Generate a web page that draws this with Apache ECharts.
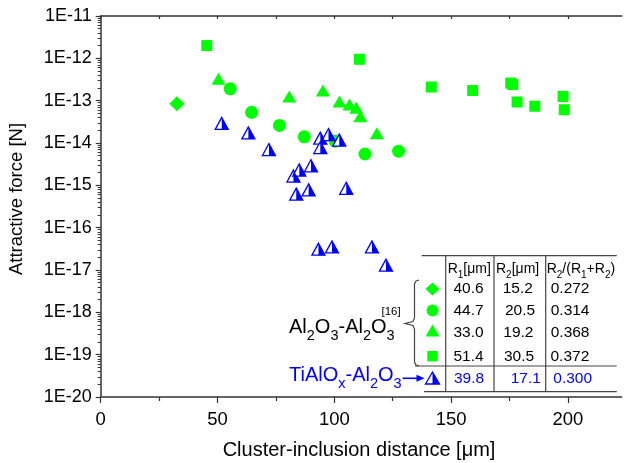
<!DOCTYPE html>
<html><head><meta charset="utf-8">
<script src="https://cdn.jsdelivr.net/npm/echarts@6/dist/echarts.min.js"></script>
<style>html,body{margin:0;padding:0;background:#fff}#c{width:624px;height:463px}</style>
</head><body><div id="c"></div>
<script>
// ---- data ----
const diamondX = [32.6];
const diamondY = [8.5e-14];
const circleX = [55.4, 64.6, 76.5, 87.1, 100.4, 113.1, 127.5];
const circleY = [1.9e-13, 5.3e-14, 2.6e-14, 1.4e-14, 1.1e-14, 5.5e-15, 6.4e-15];
const triX = [50.4, 80.7, 95.1, 102.2, 106.5, 109.4, 111.1, 118.2];
const triY = [3.3e-13, 1.26e-13, 1.74e-13, 9.5e-14, 8.1e-14, 6.8e-14, 4.3e-14, 1.7e-14];
const sqX = [45.4, 110.7, 141.5, 159.2, 175.5, 176.4, 178.2, 185.8, 197.9, 198.4];
const sqY = [2.0e-12, 9.5e-13, 2.1e-13, 1.74e-13, 2.6e-13, 2.4e-13, 9.3e-14, 7.4e-14, 1.26e-13, 6.1e-14];
const blueX = [51.8, 63.2, 72.0, 82.5, 85.0, 90.0, 83.7, 89.0, 94.0, 97.5, 94.0, 102.1, 105.1, 93.2, 99.0, 116.1, 122.1];
const blueY = [2.9e-14, 1.73e-14, 7.0e-15, 1.66e-15, 2.3e-15, 2.9e-15, 6.2e-16, 7.8e-16, 1.3e-14, 1.58e-14, 7.8e-15, 1.17e-14, 8.5e-16, 3.1e-17, 3.5e-17, 3.5e-17, 1.3e-17];

const xTicks = [0, 50, 100, 150, 200];
const xMinorTicks = [25, 75, 125, 175];
const xTopTicks = [0, 25, 50, 75, 100, 125, 150, 175, 200];
const yTicks = [1e-20, 1e-19, 1e-18, 1e-17, 1e-16, 1e-15, 1e-14, 1e-13, 1e-12, 1e-11];

const tableHeader = ['R{s|1}[\u03bcm]', 'R{s|2}[\u03bcm]', 'R{s|2}/(R{s|1}+R{s|2})'];
const tableR1 = ['40.6', '44.7', '33.0', '51.4', '39.8'];
const tableR2 = ['15.2', '20.5', '19.2', '30.5', '17.1'];
const tableRatio = ['0.272', '0.314', '0.368', '0.372', '0.300'];

// ---- build ----
const FONT = 'Arial, "Liberation Sans", sans-serif';
const GREEN = '#00ff00', BLUE = '#0000ff', AX = '#333333';
const zip = (a, b) => a.map((v, i) => [v, b[i]]);
const yMinor = [];
yTicks.slice(0, -1).forEach(d => { for (let k = 2; k <= 9; k++) yMinor.push(k * d); });

const chart = echarts.init(document.getElementById('c'), null, {renderer: 'canvas'});

const rowY = [289, 311, 332.5, 357, 379];
const r1X = [453.5, 453.5, 453.5, 453.5, 454];
const r2X = [502.7, 505, 503.3, 504, 510.7];
const r3X = [550.7, 550.7, 550.7, 550.5, 553.3];

const graphics = [];
// axis titles
graphics.push({type: 'text', x: 17, y: 199, rotation: Math.PI / 2, silent: true,
  style: {text: 'Attractive force [N]', fontFamily: FONT, fontSize: 18.5, fill: '#000', align: 'center', verticalAlign: 'middle'}});
graphics.push({type: 'text', x: 359, y: 450, silent: true,
  style: {text: 'Cluster-inclusion distance [\u03bcm]', fontFamily: FONT, fontSize: 20, fill: '#000', align: 'center', verticalAlign: 'middle'}});
// table lines
const L = (x1, y1, x2, y2) => graphics.push({type: 'line', silent: true, shape: {x1, y1, x2, y2}, style: {stroke: '#444', lineWidth: 1.2}});
L(421.7, 255.7, 616.7, 255.7);
L(415, 366, 616.7, 366);
L(424, 391.7, 616.7, 391.7);
L(445.7, 255.7, 445.7, 391.7);
L(494, 255.7, 494, 391.7);
L(545.7, 255.7, 545.7, 391.7);
// brace
graphics.push({type: 'polyline', silent: true, shape: {points: [[419, 280], [416, 281], [414.5, 284], [414.5, 318], [413, 321.5], [405, 323.5], [413, 325.5], [414.5, 329], [414.5, 362], [416, 365], [419, 366]]},
  style: {stroke: '#444', lineWidth: 1.2, fill: null}});
// headers
const hx = [447.7, 496, 546.7];
tableHeader.forEach((t, i) => graphics.push({type: 'text', x: hx[i], y: 269, silent: true,
  style: {text: t, fontFamily: FONT, fontSize: 14, fill: '#000', align: 'left', verticalAlign: 'middle', lineHeight: 14,
    rich: {s: {fontFamily: FONT, fontSize: 10, lineHeight: 10, padding: [12, 0, 0, 0]}}}}));
// rows
tableR1.forEach((t, i) => {
  const c = i === 4 ? BLUE : '#000';
  [[r1X[i], t], [r2X[i], tableR2[i]], [r3X[i], tableRatio[i]]].forEach(([x, s]) =>
    graphics.push({type: 'text', x, y: rowY[i], silent: true,
      style: {text: s, fontFamily: FONT, fontSize: 15.5, fill: c, align: 'left', verticalAlign: 'middle'}}));
});
// table symbols
const sx = 432.5;
graphics.push({type: 'polygon', silent: true, shape: {points: [[sx, rowY[0] - 6.5], [sx + 7, rowY[0]], [sx, rowY[0] + 6.5], [sx - 7, rowY[0]]]}, style: {fill: GREEN}});
graphics.push({type: 'circle', silent: true, shape: {cx: sx, cy: 310.5, r: 6}, style: {fill: GREEN}});
graphics.push({type: 'polygon', silent: true, shape: {points: [[sx, 324.5], [sx + 7, 336.5], [sx - 7, 336.5]]}, style: {fill: GREEN}});
graphics.push({type: 'rect', silent: true, shape: {x: sx - 5.2, y: 351, width: 10.4, height: 10.4}, style: {fill: GREEN}});
graphics.push({type: 'polygon', silent: true, shape: {points: [[sx, 372], [sx + 7, 384], [sx - 7, 384]]}, style: {fill: '#fff', stroke: BLUE, lineWidth: 1.3}});
graphics.push({type: 'polygon', silent: true, shape: {points: [[sx, 372], [sx + 7, 384], [sx, 384]]}, style: {fill: BLUE}});
// labels
graphics.push({type: 'text', x: 289, y: 327.5, silent: true,
  style: {text: 'Al{s|2}O{s|3}-Al{s|2}O{s|3}', fontFamily: FONT, fontSize: 20, lineHeight: 22, fill: '#000', align: 'left', verticalAlign: 'middle',
    rich: {s: {fontFamily: FONT, fontSize: 14.5, lineHeight: 14, padding: [17, 0, 0, 0]}}}});
graphics.push({type: 'text', x: 381.5, y: 311.5, silent: true,
  style: {text: '[16]', fontFamily: FONT, fontSize: 11.5, fill: '#000', align: 'left', verticalAlign: 'middle'}});
graphics.push({type: 'text', x: 289, y: 375, silent: true,
  style: {text: 'TiAlO{s|x}-Al{s|2}O{s|3}', fontFamily: FONT, fontSize: 20, lineHeight: 22, fill: BLUE, align: 'left', verticalAlign: 'middle',
    rich: {s: {fontFamily: FONT, fontSize: 14.5, lineHeight: 14, fill: BLUE, padding: [17, 0, 0, 0]}}}});
// arrow
graphics.push({type: 'line', silent: true, shape: {x1: 402.7, y1: 378.3, x2: 418, y2: 378.3}, style: {stroke: BLUE, lineWidth: 1.6}});
graphics.push({type: 'polygon', silent: true, shape: {points: [[416.5, 374.8], [424.5, 378.3], [416.5, 381.8]]}, style: {fill: BLUE}});

const option = {
  animation: false,
  backgroundColor: '#fff',
  grid: {left: 100.7, right: 2.3, top: 16, bottom: 66},
  xAxis: [
    {type: 'value', min: 0, max: 223, position: 'bottom',
      axisLine: {show: true, lineStyle: {color: AX, width: 1.5}},
      axisTick: {show: true, length: 6, customValues: xTicks, lineStyle: {color: AX, width: 1.2}},
      axisLabel: {show: true, customValues: xTicks, fontFamily: FONT, fontSize: 18.5, color: '#000', margin: 13},
      splitLine: {show: false}},
    {type: 'value', min: 0, max: 223, position: 'bottom',
      axisLine: {show: false},
      axisTick: {show: true, length: 4, customValues: xMinorTicks, lineStyle: {color: AX, width: 1.2}},
      axisLabel: {show: false}, splitLine: {show: false}},
    {type: 'value', min: 0, max: 223, position: 'top',
      axisLine: {show: true, lineStyle: {color: AX, width: 1.5}},
      axisTick: {show: true, inside: true, length: 3, customValues: xTopTicks, lineStyle: {color: AX, width: 1.2}},
      axisLabel: {show: false}, splitLine: {show: false}}
  ],
  yAxis: [
    {type: 'log', logBase: 10, min: 1e-20, max: 1e-11, position: 'left',
      axisLine: {show: true, lineStyle: {color: AX, width: 1.5}},
      axisTick: {show: true, length: 5, customValues: yTicks, lineStyle: {color: AX, width: 1.2}},
      axisLabel: {show: true, customValues: yTicks, fontFamily: FONT, fontSize: 18, color: '#000', margin: 9,
        formatter: v => '1E' + Math.round(Math.log10(v))},
      splitLine: {show: false}},
    {type: 'log', logBase: 10, min: 1e-20, max: 1e-11, position: 'left',
      axisLine: {show: false},
      axisTick: {show: true, length: 3, customValues: yMinor, lineStyle: {color: AX, width: 1}},
      axisLabel: {show: false}, splitLine: {show: false}}
  ],
  graphic: graphics,
  series: [
    {type: 'scatter', silent: true, data: zip(diamondX, diamondY), symbol: 'diamond', symbolSize: 15, itemStyle: {color: GREEN, opacity: 1}},
    {type: 'scatter', silent: true, data: zip(circleX, circleY), symbol: 'circle', symbolSize: 13, itemStyle: {color: GREEN, opacity: 1}},
    {type: 'scatter', silent: true, data: zip(triX, triY), symbol: 'triangle', symbolSize: [14, 12], itemStyle: {color: GREEN, opacity: 1}},
    {type: 'scatter', silent: true, data: zip(sqX, sqY), symbol: 'rect', symbolSize: 11, itemStyle: {color: GREEN, opacity: 1}},
    {type: 'scatter', silent: true, data: zip(blueX, blueY), symbol: 'triangle', symbolSize: [13, 12],
      itemStyle: {color: '#fff', borderColor: BLUE, borderWidth: 1.3, opacity: 1}},
    {type: 'scatter', silent: true, data: zip(blueX, blueY), symbol: 'path://M0,0L1,2L0,2Z', symbolKeepAspect: false,
      symbolSize: [6.5, 12], symbolOffset: [3.25, 0], itemStyle: {color: BLUE, opacity: 1}}
  ]
};
chart.setOption(option);
</script>
</body></html>
